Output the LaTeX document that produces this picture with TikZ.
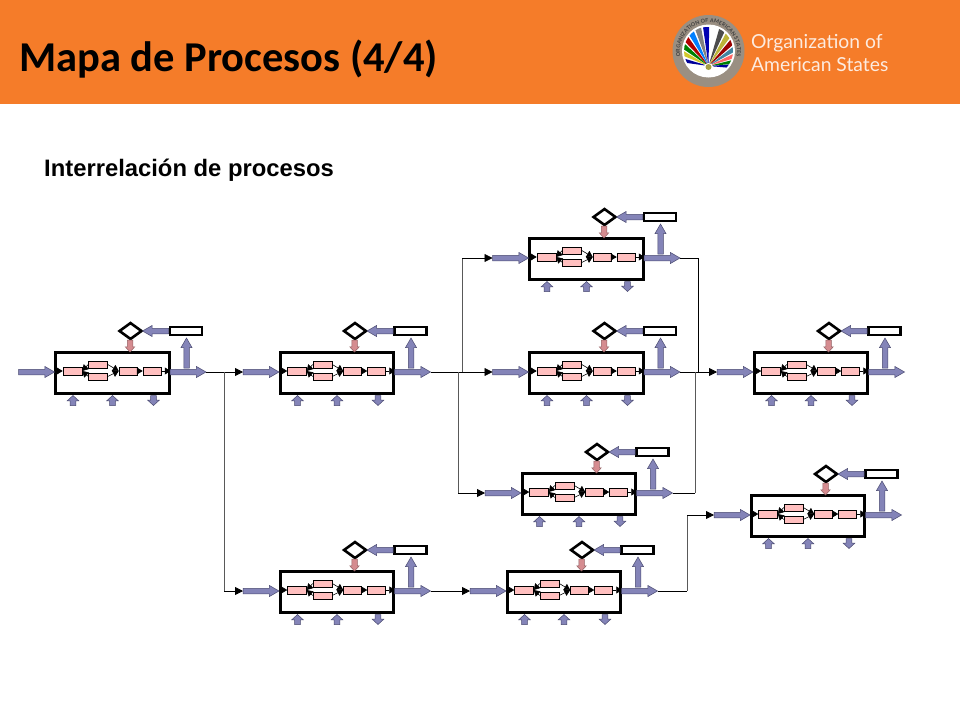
\documentclass[tikz,border=0pt]{standalone}
\usepackage{fontspec}
\setmainfont{Carlito}
\newfontfamily\subfont{Liberation Sans}
\newfontfamily\logofont{Lato}
\usetikzlibrary{shapes.geometric, shapes.arrows, arrows.meta, decorations.text}

\definecolor{headorange}{HTML}{F57C29}
\definecolor{flowblue}{HTML}{8484B8}
\definecolor{flowedge}{HTML}{4A4A70}
\definecolor{stepfill}{HTML}{FFBFBF}
\definecolor{checkpink}{HTML}{D58C90}
\definecolor{sealgrey}{HTML}{9A8F82}

\tikzset{
    procbox/.style={draw, line width=3pt, minimum width=113.5pt, minimum height=40.5pt, inner sep=0pt},
    stepbox/.style={draw, line width=0.5pt, fill=stepfill, minimum width=19pt, minimum height=7.5pt, inner sep=0pt},
    recbox/.style={draw, line width=2.6pt, fill=white, minimum width=32pt, minimum height=8pt, inner sep=0pt},
    checknode/.style={diamond, draw, line width=2.6pt, fill=white, minimum width=23pt, minimum height=17pt, inner sep=0pt},
    fatarrow/.style={single arrow, draw=flowedge, line width=0.5pt, fill=flowblue, inner sep=2.5pt,
        single arrow head extend=2.8pt, single arrow tip angle=60, minimum height=#1, anchor=tail, outer sep=0pt},
    pinkarrow/.style={fatarrow=#1, fill=checkpink, draw=checkpink!70!black, shape border rotate=270,
        single arrow head extend=2pt, single arrow tip angle=85},
    stubarrow/.style={fatarrow=10pt, inner sep=2.6pt, single arrow head extend=2.9pt, single arrow tip angle=95},
    link/.style={line width=0.8pt, -{Triangle[length=8pt,width=8pt]}},
    branch/.style={line width=0.8pt, draw=black!65},
    minitip/.style={line width=0.6pt, -{Triangle[length=6pt,width=7pt]}},
}

% one process block, #1 = name, (#2,#3) = centre of the box
\newcommand{\process}[3]{
    \begin{scope}[shift={(#2,#3)}]
        \node[procbox] (#1box) at (0,0) {};
        \node[stepbox] (#1a) at (-40,-2) {};
        \node[stepbox] (#1b) at (-14.5,-8.5) {};
        \node[stepbox] (#1c) at (-14.5,3.5) {};
        \node[stepbox, minimum width=18pt] (#1d) at (15.5,-2) {};
        \node[stepbox, minimum width=18pt] (#1e) at (39.5,-2) {};
        \draw[minitip] (#1box.west |- #1a) -- (#1a);
        \draw[minitip] (#1b.west) -- (#1a.east);
        \draw[minitip] (#1c.west) -- (#1a.east);
        \draw[minitip] (#1b.east) -- (#1d.west);
        \draw[minitip] (#1c.east) -- (#1d.west);
        \draw[minitip] (#1d) -- (#1e);
        \draw[minitip] (#1e) -- (#1box.east |- #1e);
        \node[recbox] (#1rec) at (73.5,-42) {};
        \node[checknode] (#1check) at (18,-42) {};
        \node[fatarrow=36pt] (#1in) at (-94,-1) {};
        \node[fatarrow=30pt, shape border rotate=90] (#1up) at (74,-5) {};
        \node[fatarrow=36pt] (#1out) at (57.5,-1) {};
        \node[fatarrow=26pt, shape border rotate=180] (#1back) at (56,-42) {};
        \node[pinkarrow=12pt] (#1down) at (17.5,-33) {};
        \node[stubarrow, shape border rotate=90] (#1s) at (-39.5,32.5) {};
        \node[stubarrow, shape border rotate=90] (#1t) at (0,32.5) {};
        \node[stubarrow, shape border rotate=270] (#1u) at (41,22.5) {};
    \end{scope}
}

\begin{document}
\begin{tikzpicture}[x=1pt, y=-1pt]
    \useasboundingbox (0,0) rectangle (960,720);
    \fill[white] (0,0) rectangle (960,720);
    \fill[headorange] (0,0) rectangle (960,104);
    \node[anchor=base west, inner sep=0pt, font=\fontsize{42.5}{46}\selectfont\bfseries] (title) at (19,71) {Mapa de Procesos (4/4)};
    \node[anchor=base west, inner sep=0pt, font=\subfont\fontsize{23.8}{26}\selectfont\bfseries] (subtitle) at (44,176) {Interrelación de procesos};

    % seal
    \begin{scope}[shift={(708.5,51)}, y=1pt]
        \fill[sealgrey] (0,0) circle (36);
        \fill[white] (0,0) circle (26.5);
        \begin{scope}
            \clip (0,0) circle (24.5);
            \foreach \ang/\col in {172/blue!60!black, 158/yellow!80!black, 146/green!50!black, 134/red!70!black,
                122/blue!50!cyan, 110/gray, 98/blue!70!black, 74/black!70, 62/yellow!70!black,
                50/red!60!black, 38/cyan!60!black, 26/red!60, 14/green!50!black, 4/blue!60!black} {
                \fill[\col] (0,-15) -- ++(\ang:39) arc[start angle=\ang, delta angle=-9, radius=39] -- cycle;
            }
            \fill[white] (0,-17) circle (5);
            \fill[yellow!60!black] (0,-16) circle (3);
        \end{scope}
        \path[postaction={decorate}, decoration={text along path, text align=center,
            text={|\logofont\fontsize{5.4}{6}\selectfont\bfseries\color{black!75}|ORGANIZATION OF AMERICAN STATES}}]
            (222:28.5) arc[start angle=222, end angle=-42, radius=28.5];
    \end{scope}
    \node[anchor=base west, inner sep=0pt, text=white!85!headorange, font=\logofont\fontsize{19.3}{24}\selectfont] (orgline) at (751,48) {Organization of};
    \node[anchor=base west, inner sep=0pt, text=white!85!headorange, font=\logofont\fontsize{19.3}{24}\selectfont] (amline) at (751,71) {American States};

    \process{first}{112.5}{373}
    \process{second}{337}{373}
    \process{upper}{586.5}{259}
    \process{middle}{586.5}{373}
    \process{last}{811}{373}
    \process{lower}{579}{494}
    \process{side}{808}{516}
    \process{botleft}{337}{592}
    \process{botright}{564}{592}

    \coordinate (forkone) at (224,372);
    \coordinate (forkup) at (462,372);
    \coordinate (forkdown) at (458,372);
    \coordinate (joinup) at (698,372);
    \coordinate (joindown) at (695,372);
    \coordinate (sidefork) at (687,591);

    \draw[link] (firstout.tip) -- (secondin.tail);
    \draw[link] (secondout.tip) -- (middlein.tail);
    \draw[link] (middleout.tip) -- (lastin.tail);
    \draw[link] (botleftout.tip) -- (botrightin.tail);
    \draw[branch] (forkone) -- (forkone |- botleftin.tail);
    \draw[link] (forkone |- botleftin.tail) -- (botleftin.tail);
    \draw[branch] (forkup) -- (forkup |- upperin.tail);
    \draw[link] (forkup |- upperin.tail) -- (upperin.tail);
    \draw[branch] (forkdown) -- (forkdown |- lowerin.tail);
    \draw[link] (forkdown |- lowerin.tail) -- (lowerin.tail);
    \draw[line width=0.8pt] (upperout.tip) -- (joinup |- upperout.tip) -- (joinup);
    \draw[line width=0.8pt] (lowerout.tip) -- (joindown |- lowerout.tip);
    \draw[branch] (joindown |- lowerout.tip) -- (joindown);
    \draw[line width=0.8pt] (botrightout.tip) -- (sidefork);
    \draw[branch] (sidefork) -- (sidefork |- sidein.tail);
    \draw[link] (sidefork |- sidein.tail) -- (sidein.tail);
\end{tikzpicture}
\end{document}
